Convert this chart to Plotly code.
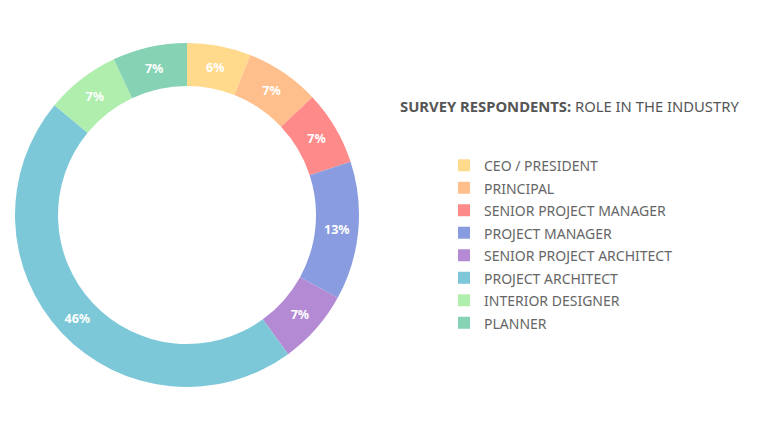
import plotly.graph_objects as go

roles = ["CEO / PRESIDENT", "PRINCIPAL", "SENIOR PROJECT MANAGER", "PROJECT MANAGER",
         "SENIOR PROJECT ARCHITECT", "PROJECT ARCHITECT", "INTERIOR DESIGNER", "PLANNER"]
shares = [6, 7, 7, 13, 7, 46, 7, 7]
colors = ["#FFD98C", "#FFBF8C", "#FF8A8A", "#8A9CE0", "#B48AD4", "#7CC8D8", "#B0EEAE", "#86D2B4"]

W, H = 768, 432
OFF = 8  # page body margin offset
cx, cy, R = 187 - OFF, 215 - OFF, 172

fig = go.Figure(go.Pie(
    labels=[f"<span style='font-size:14px'>{r}</span>" for r in roles],
    values=shares,
    marker=dict(colors=colors, line=dict(width=0)),
    hole=0.75,
    sort=False,
    direction="clockwise",
    rotation=0,
    texttemplate="<b>%{value}%</b>",
    textposition="inside",
    insidetextorientation="horizontal",
    textfont=dict(color="white", size=12.5, family="Noto Sans"),
    hoverinfo="label+percent",
    domain=dict(x=[(cx - R) / W, (cx + R) / W], y=[(H - cy - R) / H, (H - cy + R) / H]),
))

fig.update_layout(
    width=W, height=H,
    margin=dict(l=0, r=0, t=0, b=0),
    paper_bgcolor="white",
    font=dict(family="Noto Sans", color="#666666"),
    showlegend=True,
    legend=dict(x=436 / W, y=1 - 141 / H, xanchor="left", yanchor="top",
                font=dict(size=15, color="#666666", family="Noto Sans"),
                itemclick=False),
    annotations=[dict(
        x=390 / W, y=1 - 98 / H, xref="paper", yref="paper", xanchor="left", yanchor="middle",
        showarrow=False,
        text="<b>SURVEY RESPONDENTS:</b> ROLE IN THE INDUSTRY",
        font=dict(size=14.8, color="#555555", family="Noto Sans"),
    )],
)

fig.write_html("out.html")
